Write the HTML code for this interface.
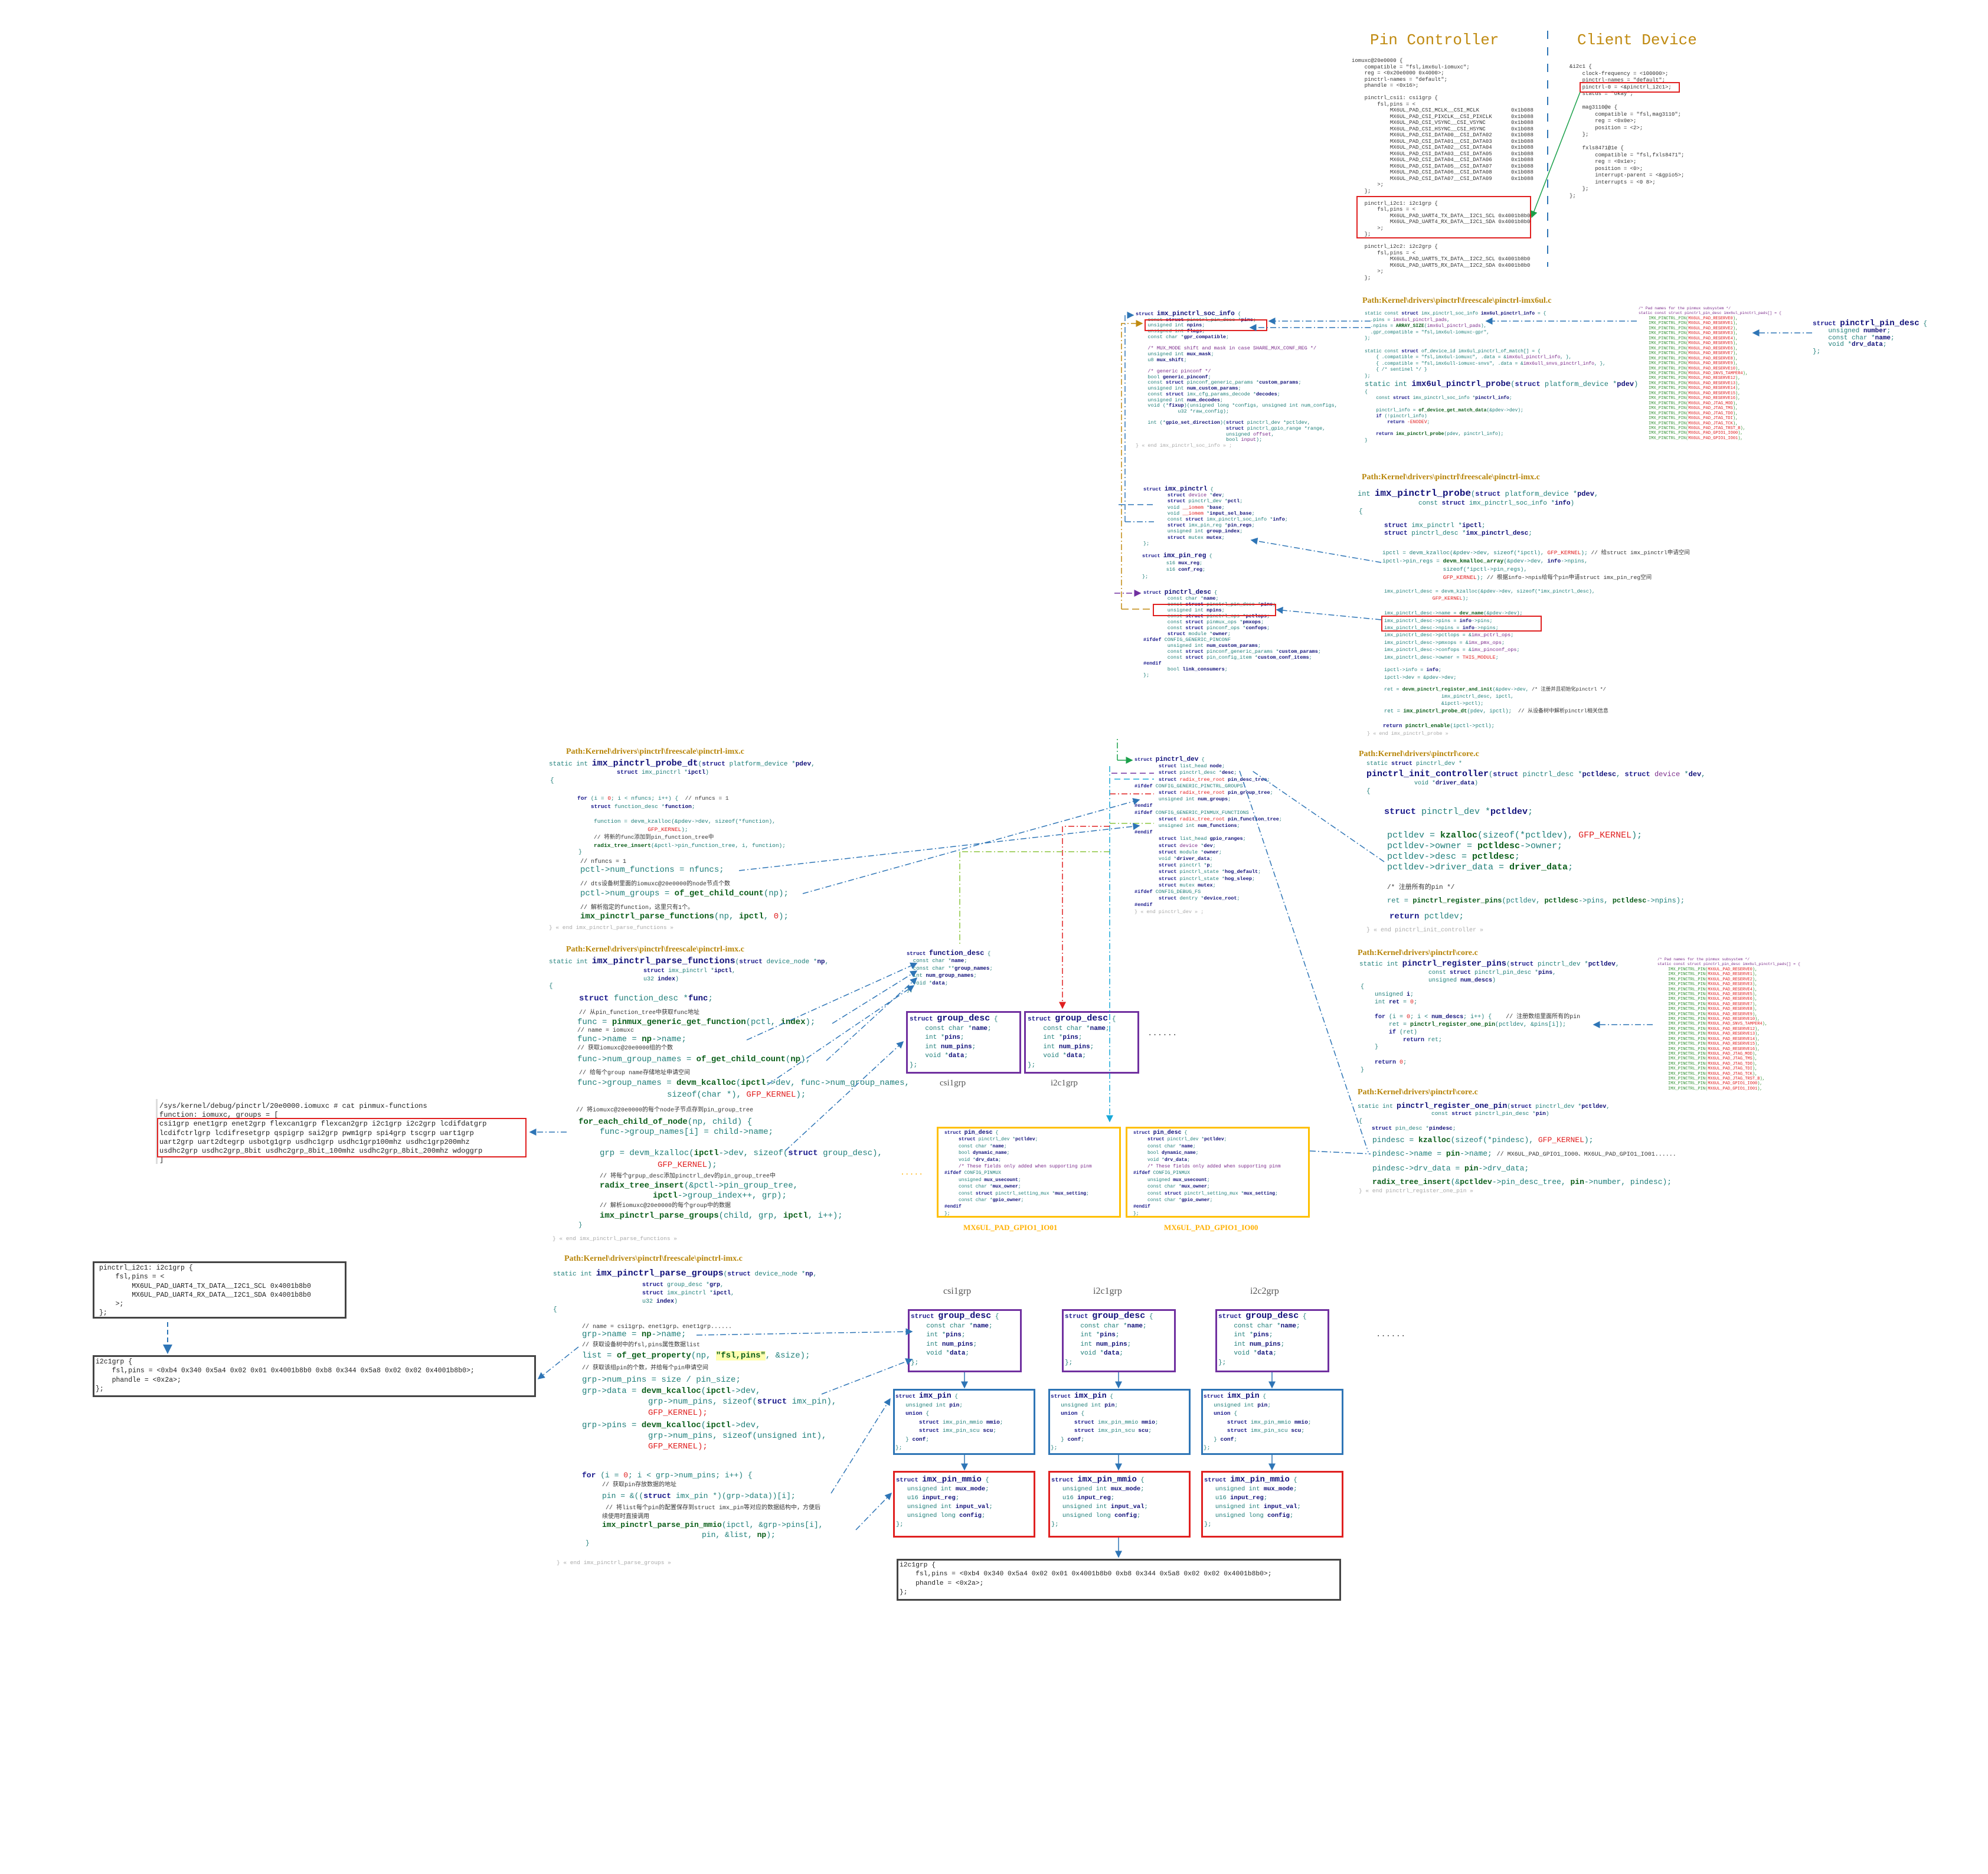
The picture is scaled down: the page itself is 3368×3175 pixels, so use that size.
<!DOCTYPE html>
<html><head><meta charset="utf-8">
<style>
html,body{margin:0;padding:0;background:#fff;}
body{width:3368px;height:3175px;position:relative;overflow:hidden;}
.t{position:absolute;white-space:pre;font-family:"Liberation Mono","Noto Sans CJK SC",monospace;color:#1f7f7a;line-height:1;}
.b{position:absolute;white-space:pre;font-family:"Liberation Mono","Noto Sans CJK SC",monospace;color:#1f7f7a;}
.path{position:absolute;white-space:pre;font-family:"Liberation Serif","Noto Serif CJK SC",serif;font-weight:bold;color:#b8860b;font-size:14px;}
.k{color:#1a1a8c;font-weight:bold}
.f{color:#0b5e1a;font-weight:bold}
.n{color:#10107a;font-weight:bold}
.r{color:#e02020}
.g{color:#2f8f2f}
.c{color:#333}
.p{color:#7a2a8a}
.gr{color:#aaa}
.box{position:absolute;box-sizing:border-box;}
.dts{color:#333;font-size:9px;line-height:10.5px;}
</style></head><body>

<!-- Titles -->
<div class="t" style="left:2321px;top:55px;font-size:26px;color:#c08a10;font-family:'Liberation Mono',monospace;">Pin Controller</div>
<div class="t" style="left:2672px;top:55px;font-size:26px;color:#c08a10;font-family:'Liberation Mono',monospace;">Client Device</div>

<!-- Pin controller DTS -->
<div class="b dts" style="left:2290px;top:98px;">iomuxc@20e0000 {
    compatible = "fsl,imx6ul-iomuxc";
    reg = &lt;0x20e0000 0x4000&gt;;
    pinctrl-names = "default";
    phandle = &lt;0x16&gt;;

    pinctrl_csi1: csi1grp {
        fsl,pins = &lt;
            MX6UL_PAD_CSI_MCLK__CSI_MCLK          0x1b088
            MX6UL_PAD_CSI_PIXCLK__CSI_PIXCLK      0x1b088
            MX6UL_PAD_CSI_VSYNC__CSI_VSYNC        0x1b088
            MX6UL_PAD_CSI_HSYNC__CSI_HSYNC        0x1b088
            MX6UL_PAD_CSI_DATA00__CSI_DATA02      0x1b088
            MX6UL_PAD_CSI_DATA01__CSI_DATA03      0x1b088
            MX6UL_PAD_CSI_DATA02__CSI_DATA04      0x1b088
            MX6UL_PAD_CSI_DATA03__CSI_DATA05      0x1b088
            MX6UL_PAD_CSI_DATA04__CSI_DATA06      0x1b088
            MX6UL_PAD_CSI_DATA05__CSI_DATA07      0x1b088
            MX6UL_PAD_CSI_DATA06__CSI_DATA08      0x1b088
            MX6UL_PAD_CSI_DATA07__CSI_DATA09      0x1b088
        &gt;;
    };

    pinctrl_i2c1: i2c1grp {
        fsl,pins = &lt;
            MX6UL_PAD_UART4_TX_DATA__I2C1_SCL 0x4001b8b0
            MX6UL_PAD_UART4_RX_DATA__I2C1_SDA 0x4001b8b0
        &gt;;
    };

    pinctrl_i2c2: i2c2grp {
        fsl,pins = &lt;
            MX6UL_PAD_UART5_TX_DATA__I2C2_SCL 0x4001b8b0
            MX6UL_PAD_UART5_RX_DATA__I2C2_SDA 0x4001b8b0
        &gt;;
    };</div>
<div class="box" style="left:2298px;top:332px;width:296px;height:72px;border:2px solid #e02020;"></div>

<!-- Client DTS -->
<div class="b dts" style="left:2659px;top:108px;line-height:11.5px;">&amp;i2c1 {
    clock-frequency = &lt;100000&gt;;
    pinctrl-names = "default";
    pinctrl-0 = &lt;&amp;pinctrl_i2c1&gt;;
    status = "okay";

    mag3110@e {
        compatible = "fsl,mag3110";
        reg = &lt;0x0e&gt;;
        position = &lt;2&gt;;
    };

    fxls8471@1e {
        compatible = "fsl,fxls8471";
        reg = &lt;0x1e&gt;;
        position = &lt;0&gt;;
        interrupt-parent = &lt;&amp;gpio5&gt;;
        interrupts = &lt;0 8&gt;;
    };
};</div>
<div class="box" style="left:2676px;top:139px;width:170px;height:18px;border:2px solid #e02020;"></div>

<!-- imx6ul.c -->
<div class="path" style="left:2308px;top:502px;">Path:Kernel\drivers\pinctrl\freescale\pinctrl-imx6ul.c</div>
<div class="b" style="left:2312px;top:527px;font-size:8px;line-height:10.6px;">static const <span class="k">struct</span> imx_pinctrl_soc_info <span class="n">imx6ul_pinctrl_info</span> = {
  .pins = <span class="p">imx6ul_pinctrl_pads</span>,
  .npins = <span class="f">ARRAY_SIZE</span>(<span class="p">imx6ul_pinctrl_pads</span>),
  .gpr_compatible = "fsl,imx6ul-iomuxc-gpr",
};

static const <span class="k">struct</span> of_device_id imx6ul_pinctrl_of_match[] = {
    { .compatible = "fsl,imx6ul-iomuxc", .data = &amp;<span class="p">imx6ul_pinctrl_info</span>, },
    { .compatible = "fsl,imx6ull-iomuxc-snvs", .data = &amp;<span class="p">imx6ull_snvs_pinctrl_info</span>, },
    { /* sentinel */ }
};</div>
<div class="t" style="left:2312px;top:644px;font-size:12px;">static int <span class="n" style="font-size:14px">imx6ul_pinctrl_probe</span>(<span class="k">struct</span> platform_device *<span class="n">pdev</span>)</div>
<div class="b" style="left:2312px;top:660px;font-size:8px;line-height:10.2px;">{
    const <span class="k">struct</span> imx_pinctrl_soc_info *<span class="n">pinctrl_info</span>;

    pinctrl_info = <span class="f">of_device_get_match_data</span>(&amp;pdev-&gt;dev);
    <span class="k">if</span> (!pinctrl_info)
        <span class="k">return</span> <span class="r">-ENODEV</span>;

    <span class="k">return</span> <span class="f">imx_pinctrl_probe</span>(pdev, pinctrl_info);
}</div>

<!-- pads list 1 -->
<div class="b" style="left:2776px;top:519px;font-size:6.5px;line-height:8.4px;color:#7a2a8a">/* Pad names for the pinmux subsystem */
static const struct pinctrl_pin_desc imx6ul_pinctrl_pads[] = {</div>
<div class="b g" style="left:2793px;top:536px;font-size:7px;line-height:8.45px;">IMX_PINCTRL_PIN(<span class="r">MX6UL_PAD_RESERVE0</span>),
IMX_PINCTRL_PIN(<span class="r">MX6UL_PAD_RESERVE1</span>),
IMX_PINCTRL_PIN(<span class="r">MX6UL_PAD_RESERVE2</span>),
IMX_PINCTRL_PIN(<span class="r">MX6UL_PAD_RESERVE3</span>),
IMX_PINCTRL_PIN(<span class="r">MX6UL_PAD_RESERVE4</span>),
IMX_PINCTRL_PIN(<span class="r">MX6UL_PAD_RESERVE5</span>),
IMX_PINCTRL_PIN(<span class="r">MX6UL_PAD_RESERVE6</span>),
IMX_PINCTRL_PIN(<span class="r">MX6UL_PAD_RESERVE7</span>),
IMX_PINCTRL_PIN(<span class="r">MX6UL_PAD_RESERVE8</span>),
IMX_PINCTRL_PIN(<span class="r">MX6UL_PAD_RESERVE9</span>),
IMX_PINCTRL_PIN(<span class="r">MX6UL_PAD_RESERVE10</span>),
IMX_PINCTRL_PIN(<span class="r">MX6UL_PAD_SNVS_TAMPER4</span>),
IMX_PINCTRL_PIN(<span class="r">MX6UL_PAD_RESERVE12</span>),
IMX_PINCTRL_PIN(<span class="r">MX6UL_PAD_RESERVE13</span>),
IMX_PINCTRL_PIN(<span class="r">MX6UL_PAD_RESERVE14</span>),
IMX_PINCTRL_PIN(<span class="r">MX6UL_PAD_RESERVE15</span>),
IMX_PINCTRL_PIN(<span class="r">MX6UL_PAD_RESERVE16</span>),
IMX_PINCTRL_PIN(<span class="r">MX6UL_PAD_JTAG_MOD</span>),
IMX_PINCTRL_PIN(<span class="r">MX6UL_PAD_JTAG_TMS</span>),
IMX_PINCTRL_PIN(<span class="r">MX6UL_PAD_JTAG_TDO</span>),
IMX_PINCTRL_PIN(<span class="r">MX6UL_PAD_JTAG_TDI</span>),
IMX_PINCTRL_PIN(<span class="r">MX6UL_PAD_JTAG_TCK</span>),
IMX_PINCTRL_PIN(<span class="r">MX6UL_PAD_JTAG_TRST_B</span>),
IMX_PINCTRL_PIN(<span class="r">MX6UL_PAD_GPIO1_IO00</span>),
IMX_PINCTRL_PIN(<span class="r">MX6UL_PAD_GPIO1_IO01</span>),</div>

<div class="b" style="left:3071px;top:543px;font-size:11px;line-height:11.8px;"><span class="k">struct</span> <span class="n" style="font-size:14px">pinctrl_pin_desc</span> {
    unsigned <span class="n">number</span>;
    const char *<span class="n">name</span>;
    void *<span class="n">drv_data</span>;
};</div>

<!-- middle structs -->
<div class="b" style="left:1924px;top:528px;font-size:8.5px;line-height:9.7px;"><span class="k">struct</span> <span class="n" style="font-size:11px">imx_pinctrl_soc_info</span> {
    const <span class="k">struct</span> pinctrl_pin_desc *<span class="n">pins</span>;
    unsigned int <span class="n">npins</span>;
    unsigned int <span class="n">flags</span>;
    const char *<span class="n">gpr_compatible</span>;

    <span class="p">/* MUX_MODE shift and mask in case SHARE_MUX_CONF_REG */</span>
    unsigned int <span class="n">mux_mask</span>;
    u8 <span class="n">mux_shift</span>;

    <span class="p">/* generic pinconf */</span>
    bool <span class="n">generic_pinconf</span>;
    const <span class="k">struct</span> pinconf_generic_params *<span class="n">custom_params</span>;
    unsigned int <span class="n">num_custom_params</span>;
    const <span class="k">struct</span> imx_cfg_params_decode *<span class="n">decodes</span>;
    unsigned int <span class="n">num_decodes</span>;
    void (*<span class="n">fixup</span>)(unsigned long *configs, unsigned int num_configs,
              u32 *raw_config);

    int (*<span class="n">gpio_set_direction</span>)(<span class="k">struct</span> pinctrl_dev *pctldev,
                              <span class="k">struct</span> pinctrl_gpio_range *range,
                              unsigned <span class="p">offset</span>,
                              bool <span class="p">input</span>);
<span class="gr">} « end imx_pinctrl_soc_info » ;</span></div>
<div class="box" style="left:1939px;top:541px;width:208px;height:20px;border:2px solid #e02020;"></div>

<div class="b" style="left:1937px;top:824px;font-size:8.5px;line-height:10.2px;"><span class="k">struct</span> <span class="n" style="font-size:11px">imx_pinctrl</span> {
        <span class="k">struct</span> <span class="p">device</span> *<span class="n">dev</span>;
        <span class="k">struct</span> pinctrl_dev *<span class="n">pctl</span>;
        void <span class="r">__iomem</span> *<span class="n">base</span>;
        void <span class="r">__iomem</span> *<span class="n">input_sel_base</span>;
        const <span class="k">struct</span> imx_pinctrl_soc_info *<span class="n">info</span>;
        <span class="k">struct</span> imx_pin_reg *<span class="n">pin_regs</span>;
        unsigned int <span class="n">group_index</span>;
        <span class="k">struct</span> mutex <span class="n">mutex</span>;
};</div>
<div class="b" style="left:1935px;top:937px;font-size:8.5px;line-height:11.5px;"><span class="k">struct</span> <span class="n" style="font-size:11px">imx_pin_reg</span> {
        s16 <span class="n">mux_reg</span>;
        s16 <span class="n">conf_reg</span>;
};</div>
<div class="b" style="left:1937px;top:999px;font-size:8.5px;line-height:10px;"><span class="k">struct</span> <span class="n" style="font-size:11px">pinctrl_desc</span> {
        const char *<span class="n">name</span>;
        const <span class="k">struct</span> pinctrl_pin_desc *<span class="n">pins</span>;
        unsigned int <span class="n">npins</span>;
        const <span class="k">struct</span> pinctrl_ops *<span class="n">pctlops</span>;
        const <span class="k">struct</span> pinmux_ops *<span class="n">pmxops</span>;
        const <span class="k">struct</span> pinconf_ops *<span class="n">confops</span>;
        <span class="k">struct</span> module *<span class="n">owner</span>;
<span class="k">#ifdef</span> CONFIG_GENERIC_PINCONF
        unsigned int <span class="n">num_custom_params</span>;
        const <span class="k">struct</span> pinconf_generic_params *<span class="n">custom_params</span>;
        const <span class="k">struct</span> pin_config_item *<span class="n">custom_conf_items</span>;
<span class="k">#endif</span>
        bool <span class="n">link_consumers</span>;
};</div>
<div class="box" style="left:1953px;top:1023px;width:209px;height:21px;border:2px solid #e02020;"></div>

<div class="b" style="left:1922px;top:1282px;font-size:8.5px;line-height:11.2px;"><span class="k">struct</span> <span class="n" style="font-size:11px">pinctrl_dev</span> {
        <span class="k">struct</span> list_head <span class="n">node</span>;
        <span class="k">struct</span> pinctrl_desc *<span class="n">desc</span>;
        <span class="k">struct</span> <span class="r">radix_tree_root</span> <span class="n">pin_desc_tree</span>;
<span class="k">#ifdef</span> CONFIG_GENERIC_PINCTRL_GROUPS
        <span class="k">struct</span> <span class="r">radix_tree_root</span> <span class="n">pin_group_tree</span>;
        unsigned int <span class="n">num_groups</span>;
<span class="k">#endif</span>
<span class="k">#ifdef</span> CONFIG_GENERIC_PINMUX_FUNCTIONS
        <span class="k">struct</span> <span class="r">radix_tree_root</span> <span class="n">pin_function_tree</span>;
        unsigned int <span class="n">num_functions</span>;
<span class="k">#endif</span>
        <span class="k">struct</span> list_head <span class="n">gpio_ranges</span>;
        <span class="k">struct</span> <span class="p">device</span> *<span class="n">dev</span>;
        <span class="k">struct</span> module *<span class="n">owner</span>;
        void *<span class="n">driver_data</span>;
        <span class="k">struct</span> pinctrl *<span class="n">p</span>;
        <span class="k">struct</span> pinctrl_state *<span class="n">hog_default</span>;
        <span class="k">struct</span> pinctrl_state *<span class="n">hog_sleep</span>;
        <span class="k">struct</span> mutex <span class="n">mutex</span>;
<span class="k">#ifdef</span> CONFIG_DEBUG_FS
        <span class="k">struct</span> dentry *<span class="n">device_root</span>;
<span class="k">#endif</span>
<span class="gr">} « end pinctrl_dev » ;</span></div>

<!-- imx_pinctrl_probe (right) -->
<div class="path" style="left:2307px;top:801px;">Path:Kernel\drivers\pinctrl\freescale\pinctrl-imx.c</div>
<div class="t" style="left:2300px;top:828px;font-size:12px;">int <span class="n" style="font-size:16px">imx_pinctrl_probe</span>(<span class="k">struct</span> platform_device *<span class="n">pdev</span>,</div>
<div class="t" style="left:2403px;top:848px;font-size:11px;">const <span class="k">struct</span> imx_pinctrl_soc_info *<span class="n">info</span>)</div>
<div class="t" style="left:2302px;top:862px;font-size:11px;">{</div>
<div class="b" style="left:2345px;top:885px;font-size:11px;line-height:13px;"><span class="k">struct</span> imx_pinctrl *<span class="n">ipctl</span>;
<span class="k">struct</span> pinctrl_desc *<span class="n">imx_pinctrl_desc</span>;</div>
<div class="b" style="left:2342px;top:930px;font-size:9.5px;line-height:14px;">ipctl = devm_kzalloc(&amp;pdev-&gt;dev, sizeof(*ipctl), <span class="r">GFP_KERNEL</span>); <span class="c">// 给struct imx_pinctrl申请空间</span>
ipctl-&gt;pin_regs = <span class="f">devm_kmalloc_array</span>(&amp;pdev-&gt;dev, <span class="n">info</span>-&gt;npins,
                  sizeof(*ipctl-&gt;pin_regs),
                  <span class="r">GFP_KERNEL</span>); <span class="c">// 根据info-&gt;npis给每个pin申请struct imx_pin_reg空间</span></div>
<div class="b" style="left:2345px;top:996px;font-size:8.5px;line-height:12.4px;">imx_pinctrl_desc = devm_kzalloc(&amp;pdev-&gt;dev, sizeof(*imx_pinctrl_desc),
                <span class="r">GFP_KERNEL</span>);

imx_pinctrl_desc-&gt;name = <span class="f">dev_name</span>(&amp;pdev-&gt;dev);
imx_pinctrl_desc-&gt;pins = <span class="n">info</span>-&gt;pins;
imx_pinctrl_desc-&gt;npins = <span class="n">info</span>-&gt;npins;
imx_pinctrl_desc-&gt;pctlops = &amp;<span class="p">imx_pctrl_ops</span>;
imx_pinctrl_desc-&gt;pmxops = &amp;<span class="p">imx_pmx_ops</span>;
imx_pinctrl_desc-&gt;confops = &amp;<span class="p">imx_pinconf_ops</span>;
imx_pinctrl_desc-&gt;owner = <span class="r">THIS_MODULE</span>;</div>
<div class="box" style="left:2340px;top:1043px;width:272px;height:27px;border:2px solid #e02020;"></div>
<div class="b" style="left:2345px;top:1129px;font-size:8.5px;line-height:13px;">ipctl-&gt;info = <span class="n">info</span>;
ipctl-&gt;dev = &amp;pdev-&gt;dev;</div>
<div class="b" style="left:2345px;top:1162px;font-size:8.5px;line-height:12px;">ret = <span class="f">devm_pinctrl_register_and_init</span>(&amp;pdev-&gt;dev, <span class="c">/* 注册并且初始化pinctrl */</span>
                   imx_pinctrl_desc, ipctl,
                   &amp;ipctl-&gt;pctl);</div>
<div class="t" style="left:2345px;top:1201px;font-size:9px;">ret = <span class="f">imx_pinctrl_probe_dt</span>(pdev, ipctl);  <span class="c">// 从设备树中解析pinctrl相关信息</span></div>
<div class="t" style="left:2343px;top:1226px;font-size:9px;"><span class="k">return</span> <span class="f">pinctrl_enable</span>(ipctl-&gt;pctl);</div>
<div class="t gr" style="left:2316px;top:1239px;font-size:8.5px;">} « end imx_pinctrl_probe »</div>

<!-- pinctrl_init_controller -->
<div class="path" style="left:2302px;top:1270px;">Path:Kernel\drivers\pinctrl\core.c</div>
<div class="t" style="left:2315px;top:1290px;font-size:10px;">static <span class="k">struct</span> pinctrl_dev *</div>
<div class="t" style="left:2315px;top:1304px;font-size:12px;"><span class="n" style="font-size:15px">pinctrl_init_controller</span>(<span class="k">struct</span> pinctrl_desc *<span class="n">pctldesc</span>, <span class="k">struct</span> <span class="p">device</span> *<span class="n">dev</span>,</div>
<div class="t" style="left:2396px;top:1323px;font-size:10px;">void *<span class="n">driver_data</span>)</div>
<div class="t" style="left:2315px;top:1336px;font-size:11px;">{</div>
<div class="t" style="left:2345px;top:1368px;font-size:15px;"><span class="k">struct</span> pinctrl_dev *<span class="n">pctldev</span>;</div>
<div class="b" style="left:2350px;top:1407px;font-size:15px;line-height:18px;">pctldev = <span class="f">kzalloc</span>(sizeof(*pctldev), <span class="r">GFP_KERNEL</span>);
pctldev-&gt;owner = <span class="f">pctldesc</span>-&gt;owner;
pctldev-&gt;desc = <span class="f">pctldesc</span>;
pctldev-&gt;driver_data = <span class="f">driver_data</span>;</div>
<div class="t c" style="left:2350px;top:1499px;font-size:11px;">/* 注册所有的pin */</div>
<div class="t" style="left:2350px;top:1520px;font-size:12px;">ret = <span class="f">pinctrl_register_pins</span>(pctldev, <span class="f">pctldesc</span>-&gt;pins, <span class="f">pctldesc</span>-&gt;npins);</div>
<div class="t" style="left:2354px;top:1546px;font-size:14px;"><span class="k">return</span> pctldev;</div>
<div class="t gr" style="left:2315px;top:1572px;font-size:10px;">} « end pinctrl_init_controller »</div>

<!-- pinctrl_register_pins -->
<div class="path" style="left:2300px;top:1607px;">Path:Kernel\drivers\pinctrl\core.c</div>
<div class="t" style="left:2303px;top:1626px;font-size:11px;">static int <span class="n" style="font-size:14px">pinctrl_register_pins</span>(<span class="k">struct</span> pinctrl_dev *<span class="n">pctldev</span>,</div>
<div class="b" style="left:2420px;top:1642px;font-size:10px;line-height:13px;">const <span class="k">struct</span> pinctrl_pin_desc *<span class="n">pins</span>,
unsigned <span class="n">num_descs</span>)</div>
<div class="b" style="left:2305px;top:1667px;font-size:10px;line-height:12.8px;">{
    unsigned <span class="n">i</span>;
    int <span class="n">ret</span> = <span class="r">0</span>;

    <span class="k">for</span> (i = <span class="r">0</span>; i &lt; <span class="n">num_descs</span>; i++) {    <span class="c">// 注册数组里面所有的pin</span>
        ret = <span class="f">pinctrl_register_one_pin</span>(pctldev, &amp;pins[i]);
        <span class="k">if</span> (ret)
            <span class="k">return</span> ret;
    }

    <span class="k">return</span> <span class="r">0</span>;
}</div>
<div class="b" style="left:2808px;top:1622px;font-size:6.5px;line-height:8.4px;color:#7a2a8a">/* Pad names for the pinmux subsystem */
static const struct pinctrl_pin_desc imx6ul_pinctrl_pads[] = {</div>
<div class="b g" style="left:2826px;top:1639px;font-size:7px;line-height:8.4px;">IMX_PINCTRL_PIN(<span class="r">MX6UL_PAD_RESERVE0</span>),
IMX_PINCTRL_PIN(<span class="r">MX6UL_PAD_RESERVE1</span>),
IMX_PINCTRL_PIN(<span class="r">MX6UL_PAD_RESERVE2</span>),
IMX_PINCTRL_PIN(<span class="r">MX6UL_PAD_RESERVE3</span>),
IMX_PINCTRL_PIN(<span class="r">MX6UL_PAD_RESERVE4</span>),
IMX_PINCTRL_PIN(<span class="r">MX6UL_PAD_RESERVE5</span>),
IMX_PINCTRL_PIN(<span class="r">MX6UL_PAD_RESERVE6</span>),
IMX_PINCTRL_PIN(<span class="r">MX6UL_PAD_RESERVE7</span>),
IMX_PINCTRL_PIN(<span class="r">MX6UL_PAD_RESERVE8</span>),
IMX_PINCTRL_PIN(<span class="r">MX6UL_PAD_RESERVE9</span>),
IMX_PINCTRL_PIN(<span class="r">MX6UL_PAD_RESERVE10</span>),
IMX_PINCTRL_PIN(<span class="r">MX6UL_PAD_SNVS_TAMPER4</span>),
IMX_PINCTRL_PIN(<span class="r">MX6UL_PAD_RESERVE12</span>),
IMX_PINCTRL_PIN(<span class="r">MX6UL_PAD_RESERVE13</span>),
IMX_PINCTRL_PIN(<span class="r">MX6UL_PAD_RESERVE14</span>),
IMX_PINCTRL_PIN(<span class="r">MX6UL_PAD_RESERVE15</span>),
IMX_PINCTRL_PIN(<span class="r">MX6UL_PAD_RESERVE16</span>),
IMX_PINCTRL_PIN(<span class="r">MX6UL_PAD_JTAG_MOD</span>),
IMX_PINCTRL_PIN(<span class="r">MX6UL_PAD_JTAG_TMS</span>),
IMX_PINCTRL_PIN(<span class="r">MX6UL_PAD_JTAG_TDO</span>),
IMX_PINCTRL_PIN(<span class="r">MX6UL_PAD_JTAG_TDI</span>),
IMX_PINCTRL_PIN(<span class="r">MX6UL_PAD_JTAG_TCK</span>),
IMX_PINCTRL_PIN(<span class="r">MX6UL_PAD_JTAG_TRST_B</span>),
IMX_PINCTRL_PIN(<span class="r">MX6UL_PAD_GPIO1_IO00</span>),
IMX_PINCTRL_PIN(<span class="r">MX6UL_PAD_GPIO1_IO01</span>),</div>

<!-- register_one_pin -->
<div class="path" style="left:2300px;top:1843px;">Path:Kernel\drivers\pinctrl\core.c</div>
<div class="t" style="left:2300px;top:1867px;font-size:10px;">static int <span class="n" style="font-size:13px">pinctrl_register_one_pin</span>(<span class="k">struct</span> pinctrl_dev *<span class="n">pctldev</span>,</div>
<div class="t" style="left:2425px;top:1882px;font-size:9.5px;">const <span class="k">struct</span> pinctrl_pin_desc *<span class="n">pin</span>)</div>
<div class="t" style="left:2302px;top:1896px;font-size:10px;">{</div>
<div class="t" style="left:2324px;top:1907px;font-size:9.5px;"><span class="k">struct</span> pin_desc *<span class="n">pindesc</span>;</div>
<div class="t" style="left:2325px;top:1925px;font-size:13px;">pindesc = <span class="f">kzalloc</span>(sizeof(*pindesc), <span class="r">GFP_KERNEL</span>);</div>
<div class="t" style="left:2325px;top:1948px;font-size:13px;">pindesc-&gt;name = <span class="f">pin</span>-&gt;name; <span class="c" style="font-size:10px">// MX6UL_PAD_GPIO1_IO00、MX6UL_PAD_GPIO1_IO01......</span></div>
<div class="t" style="left:2325px;top:1973px;font-size:13px;">pindesc-&gt;drv_data = <span class="f">pin</span>-&gt;drv_data;</div>
<div class="t" style="left:2325px;top:1996px;font-size:13px;"><span class="f">radix_tree_insert</span>(&amp;<span class="f">pctldev</span>-&gt;pin_desc_tree, <span class="f">pin</span>-&gt;number, pindesc);</div>
<div class="t gr" style="left:2302px;top:2013px;font-size:9.5px;">} « end pinctrl_register_one_pin »</div>

<!-- imx_pinctrl_probe_dt -->
<div class="path" style="left:959px;top:1266px;">Path:Kernel\drivers\pinctrl\freescale\pinctrl-imx.c</div>
<div class="t" style="left:930px;top:1286px;font-size:11px;">static int <span class="n" style="font-size:15px">imx_pinctrl_probe_dt</span>(<span class="k">struct</span> platform_device *<span class="n">pdev</span>,</div>
<div class="t" style="left:1045px;top:1305px;font-size:10px;"><span class="k">struct</span> imx_pinctrl *<span class="n">ipctl</span>)</div>
<div class="t" style="left:932px;top:1318px;font-size:11px;">{</div>
<div class="b" style="left:978px;top:1346px;font-size:9.5px;line-height:13.5px;"><span class="k">for</span> (i = <span class="r">0</span>; i &lt; nfuncs; i++) {  <span class="c">// nfuncs = 1</span>
    <span class="k">struct</span> function_desc *<span class="n">function</span>;</div>
<div class="b" style="left:1006px;top:1385px;font-size:9.5px;line-height:13.5px;">function = devm_kzalloc(&amp;pdev-&gt;dev, sizeof(*function),
                <span class="r">GFP_KERNEL</span>);
<span class="c">// 将新的func添加到pin_function_tree中</span>
<span class="f">radix_tree_insert</span>(&amp;pctl-&gt;pin_function_tree, i, function);</div>
<div class="t" style="left:980px;top:1440px;font-size:10px;">}</div>
<div class="t c" style="left:983px;top:1456px;font-size:10px;">// nfuncs = 1</div>
<div class="t" style="left:983px;top:1467px;font-size:14px;">pctl-&gt;num_functions = nfuncs;</div>
<div class="t c" style="left:983px;top:1494px;font-size:10px;">// dts设备树里面的iomuxc@20e0000的node节点个数</div>
<div class="t" style="left:983px;top:1507px;font-size:14px;">pctl-&gt;num_groups = <span class="f">of_get_child_count</span>(np);</div>
<div class="t c" style="left:983px;top:1534px;font-size:10px;">// 解析指定的function，这里只有1个。</div>
<div class="t" style="left:983px;top:1546px;font-size:14px;"><span class="f">imx_pinctrl_parse_functions</span>(np, <span class="f">ipctl</span>, <span class="r">0</span>);</div>
<div class="t gr" style="left:930px;top:1567px;font-size:9.5px;">} « end imx_pinctrl_parse_functions »</div>

<!-- imx_pinctrl_parse_functions -->
<div class="path" style="left:959px;top:1601px;">Path:Kernel\drivers\pinctrl\freescale\pinctrl-imx.c</div>
<div class="t" style="left:930px;top:1621px;font-size:11px;">static int <span class="n" style="font-size:15px">imx_pinctrl_parse_functions</span>(<span class="k">struct</span> device_node *<span class="n">np</span>,</div>
<div class="b" style="left:1090px;top:1639px;font-size:10px;line-height:13.5px;"><span class="k">struct</span> imx_pinctrl *<span class="n">ipctl</span>,
u32 <span class="n">index</span>)</div>
<div class="t" style="left:930px;top:1666px;font-size:11px;">{</div>
<div class="t" style="left:981px;top:1685px;font-size:14px;"><span class="k">struct</span> function_desc *<span class="n">func</span>;</div>
<div class="t c" style="left:981px;top:1712px;font-size:10px;">// 从pin_function_tree中获取func地址</div>
<div class="t" style="left:978px;top:1725px;font-size:14px;">func = <span class="f">pinmux_generic_get_function</span>(pctl, <span class="f">index</span>);</div>
<div class="t c" style="left:978px;top:1742px;font-size:10px;">// name = iomuxc</div>
<div class="t" style="left:978px;top:1754px;font-size:14px;">func-&gt;name = <span class="f">np</span>-&gt;name;</div>
<div class="t c" style="left:978px;top:1772px;font-size:10px;">// 获取iomuxc@20e0000组的个数</div>
<div class="t" style="left:978px;top:1788px;font-size:14px;">func-&gt;num_group_names = <span class="f">of_get_child_count</span>(<span class="f">np</span>);</div>
<div class="t c" style="left:981px;top:1814px;font-size:10px;">// 给每个group name存储地址申请空间</div>
<div class="t" style="left:978px;top:1828px;font-size:14px;">func-&gt;group_names = <span class="f">devm_kcalloc</span>(<span class="f">ipctl</span>-&gt;dev, func-&gt;num_group_names,</div>
<div class="t" style="left:1130px;top:1848px;font-size:14px;">sizeof(char *), <span class="r">GFP_KERNEL</span>);</div>
<div class="t c" style="left:976px;top:1877px;font-size:10px;">// 将iomuxc@20e0000的每个node子节点存到pin_group_tree</div>
<div class="t" style="left:980px;top:1894px;font-size:14px;"><span class="f">for_each_child_of_node</span>(np, child) {</div>
<div class="t" style="left:1016px;top:1911px;font-size:14px;">func-&gt;group_names[i] = child-&gt;name;</div>
<div class="t" style="left:1016px;top:1947px;font-size:14px;">grp = devm_kzalloc(<span class="f">ipctl</span>-&gt;dev, sizeof(<span class="k">struct</span> group_desc),</div>
<div class="t" style="left:1114px;top:1967px;font-size:14px;"><span class="r">GFP_KERNEL</span>);</div>
<div class="t c" style="left:1016px;top:1989px;font-size:10px;">// 将每个grpup_desc添加pinctrl_dev的pin_group_tree中</div>
<div class="t" style="left:1016px;top:2002px;font-size:14px;"><span class="f">radix_tree_insert</span>(&amp;pctl-&gt;pin_group_tree,</div>
<div class="t" style="left:1106px;top:2019px;font-size:14px;"><span class="f">ipctl</span>-&gt;group_index++, grp);</div>
<div class="t c" style="left:1016px;top:2039px;font-size:10px;">// 解析iomuxc@20e0000的每个group中的数据</div>
<div class="t" style="left:1016px;top:2053px;font-size:14px;"><span class="f">imx_pinctrl_parse_groups</span>(child, grp, <span class="f">ipctl</span>, i++);</div>
<div class="t" style="left:980px;top:2071px;font-size:11px;">}</div>
<div class="t gr" style="left:936px;top:2094px;font-size:9.5px;">} « end imx_pinctrl_parse_functions »</div>

<!-- function_desc -->
<div class="b" style="left:1536px;top:1609px;font-size:9px;line-height:12.4px;"><span class="k">struct</span> <span class="n" style="font-size:12px">function_desc</span> {
  const char *<span class="n">name</span>;
  const char **<span class="n">group_names</span>;
  int <span class="n">num_group_names</span>;
  void *<span class="n">data</span>;
};</div>

<!-- group_desc boxes (mid) -->
<div class="box" style="left:1535px;top:1713px;width:195px;height:106px;border:3px solid #7030a0;"></div>
<div class="b" style="left:1541px;top:1718px;font-size:11px;line-height:15.5px;"><span class="k">struct</span> <span class="n" style="font-size:15px">group_desc</span> {
    const char *<span class="n">name</span>;
    int *<span class="n">pins</span>;
    int <span class="n">num_pins</span>;
    void *<span class="n">data</span>;
};</div>
<div class="box" style="left:1735px;top:1713px;width:195px;height:106px;border:3px solid #7030a0;"></div>
<div class="b" style="left:1741px;top:1718px;font-size:11px;line-height:15.5px;"><span class="k">struct</span> <span class="n" style="font-size:15px">group_desc</span> {
    const char *<span class="n">name</span>;
    int *<span class="n">pins</span>;
    int <span class="n">num_pins</span>;
    void *<span class="n">data</span>;
};</div>
<div class="t" style="left:1592px;top:1828px;font-size:15px;color:#555;font-family:'Liberation Serif',serif;">csi1grp</div>
<div class="t" style="left:1780px;top:1828px;font-size:15px;color:#555;font-family:'Liberation Serif',serif;">i2c1grp</div>
<div class="t" style="left:1944px;top:1744px;font-size:14px;color:#555;">......</div>

<!-- pin_desc boxes -->
<div class="box" style="left:1587px;top:1909px;width:312px;height:154px;border:3px solid #ffc000;"></div>
<div class="b" style="left:1600px;top:1914px;font-size:8px;line-height:11.4px;"><span class="k">struct</span> <span class="n" style="font-size:10px">pin_desc</span> {
     <span class="k">struct</span> pinctrl_dev *<span class="n">pctldev</span>;
     const char *<span class="n">name</span>;
     bool <span class="n">dynamic_name</span>;
     void *<span class="n">drv_data</span>;
     <span class="p">/* These fields only added when supporting pinm</span>
<span class="k">#ifdef</span> CONFIG_PINMUX
     unsigned <span class="n">mux_usecount</span>;
     const char *<span class="n">mux_owner</span>;
     const <span class="k">struct</span> pinctrl_setting_mux *<span class="n">mux_setting</span>;
     const char *<span class="n">gpio_owner</span>;
<span class="k">#endif</span>
};</div>
<div class="box" style="left:1907px;top:1909px;width:312px;height:154px;border:3px solid #ffc000;"></div>
<div class="b" style="left:1920px;top:1914px;font-size:8px;line-height:11.4px;"><span class="k">struct</span> <span class="n" style="font-size:10px">pin_desc</span> {
     <span class="k">struct</span> pinctrl_dev *<span class="n">pctldev</span>;
     const char *<span class="n">name</span>;
     bool <span class="n">dynamic_name</span>;
     void *<span class="n">drv_data</span>;
     <span class="p">/* These fields only added when supporting pinm</span>
<span class="k">#ifdef</span> CONFIG_PINMUX
     unsigned <span class="n">mux_usecount</span>;
     const char *<span class="n">mux_owner</span>;
     const <span class="k">struct</span> pinctrl_setting_mux *<span class="n">mux_setting</span>;
     const char *<span class="n">gpio_owner</span>;
<span class="k">#endif</span>
};</div>
<div class="t" style="left:1632px;top:2073px;font-size:13px;color:#ffb000;font-family:'Liberation Serif',serif;font-weight:bold;">MX6UL_PAD_GPIO1_IO01</div>
<div class="t" style="left:1972px;top:2073px;font-size:13px;color:#ffb000;font-family:'Liberation Serif',serif;font-weight:bold;">MX6UL_PAD_GPIO1_IO00</div>
<div class="t" style="left:1525px;top:1980px;font-size:13px;color:#ffb000;">.....</div>

<!-- sys/kernel debug block -->
<div class="box" style="left:264px;top:1862px;width:3px;height:110px;background:#ddd;"></div>
<div class="b" style="left:270px;top:1867px;font-size:12px;line-height:15.2px;color:#222;">/sys/kernel/debug/pinctrl/20e0000.iomuxc # cat pinmux-functions
function: iomuxc, groups = [
csi1grp enet1grp enet2grp flexcan1grp flexcan2grp i2c1grp i2c2grp lcdifdatgrp
lcdifctrlgrp lcdifresetgrp qspigrp sai2grp pwm1grp spi4grp tscgrp uart1grp
uart2grp uart2dtegrp usbotg1grp usdhc1grp usdhc1grp100mhz usdhc1grp200mhz
usdhc2grp usdhc2grp_8bit usdhc2grp_8bit_100mhz usdhc2grp_8bit_200mhz wdoggrp
]</div>
<div class="box" style="left:266px;top:1894px;width:626px;height:67px;border:2px solid #e02020;"></div>

<!-- left DTS boxes -->
<div class="box" style="left:157px;top:2137px;width:430px;height:97px;border:3px solid #444;"></div>
<div class="b" style="left:168px;top:2141px;font-size:11.5px;line-height:15.3px;color:#222;">pinctrl_i2c1: i2c1grp {
    fsl,pins = &lt;
        MX6UL_PAD_UART4_TX_DATA__I2C1_SCL 0x4001b8b0
        MX6UL_PAD_UART4_RX_DATA__I2C1_SDA 0x4001b8b0
    &gt;;
};</div>
<div class="box" style="left:157px;top:2296px;width:751px;height:71px;border:3px solid #444;"></div>
<div class="b" style="left:162px;top:2300px;font-size:11.5px;line-height:15.3px;color:#222;">i2c1grp {
    fsl,pins = &lt;0xb4 0x340 0x5a4 0x02 0x01 0x4001b8b0 0xb8 0x344 0x5a8 0x02 0x02 0x4001b8b0&gt;;
    phandle = &lt;0x2a&gt;;
};</div>

<!-- parse_groups -->
<div class="path" style="left:956px;top:2125px;">Path:Kernel\drivers\pinctrl\freescale\pinctrl-imx.c</div>
<div class="t" style="left:937px;top:2150px;font-size:11px;">static int <span class="n" style="font-size:15px">imx_pinctrl_parse_groups</span>(<span class="k">struct</span> device_node *<span class="n">np</span>,</div>
<div class="b" style="left:1088px;top:2171px;font-size:10px;line-height:14px;"><span class="k">struct</span> group_desc *<span class="n">grp</span>,
<span class="k">struct</span> imx_pinctrl *<span class="n">ipctl</span>,
u32 <span class="n">index</span>)</div>
<div class="t" style="left:937px;top:2214px;font-size:11px;">{</div>
<div class="t c" style="left:986px;top:2244px;font-size:10px;">// name = csi1grp、enet1grp、enet1grp......</div>
<div class="t" style="left:986px;top:2254px;font-size:14px;">grp-&gt;name = <span class="f">np</span>-&gt;name;</div>
<div class="t c" style="left:986px;top:2275px;font-size:10px;">// 获取设备树中的fsl,pins属性数据list</div>
<div class="t" style="left:986px;top:2290px;font-size:14px;">list = <span class="f">of_get_property</span>(np, <span style="background:#ffffb0" class="f">"fsl,pins"</span>, &amp;size);</div>
<div class="t c" style="left:986px;top:2314px;font-size:10px;">// 获取该组pin的个数，并给每个pin申请空间</div>
<div class="t" style="left:986px;top:2331px;font-size:14px;">grp-&gt;num_pins = size / pin_size;</div>
<div class="t" style="left:986px;top:2350px;font-size:14px;">grp-&gt;data = <span class="f">devm_kcalloc</span>(<span class="f">ipctl</span>-&gt;dev,</div>
<div class="t" style="left:1098px;top:2368px;font-size:14px;">grp-&gt;num_pins, sizeof(<span class="k">struct</span> imx_pin),</div>
<div class="t r" style="left:1098px;top:2387px;font-size:14px;">GFP_KERNEL);</div>
<div class="t" style="left:986px;top:2408px;font-size:14px;">grp-&gt;pins = <span class="f">devm_kcalloc</span>(<span class="f">ipctl</span>-&gt;dev,</div>
<div class="t" style="left:1098px;top:2426px;font-size:14px;">grp-&gt;num_pins, sizeof(unsigned int),</div>
<div class="t r" style="left:1098px;top:2444px;font-size:14px;">GFP_KERNEL);</div>
<div class="t" style="left:986px;top:2493px;font-size:13px;"><span class="k">for</span> (i = <span class="r">0</span>; i &lt; grp-&gt;num_pins; i++) {</div>
<div class="t c" style="left:1020px;top:2512px;font-size:10px;">// 获取pin存放数据的地址</div>
<div class="t" style="left:1020px;top:2528px;font-size:13px;">pin = &amp;((<span class="k">struct</span> imx_pin *)(grp-&gt;data))[i];</div>
<div class="t c" style="left:1026px;top:2551px;font-size:10px;">// 将list每个pin的配置保存到struct imx_pin等对应的数据结构中，方便后</div>
<div class="t c" style="left:1020px;top:2566px;font-size:10px;">续使用时直接调用</div>
<div class="t" style="left:1020px;top:2577px;font-size:13px;"><span class="f">imx_pinctrl_parse_pin_mmio</span>(ipctl, &amp;grp-&gt;pins[i],</div>
<div class="t" style="left:1189px;top:2594px;font-size:13px;">pin, &amp;list, <span class="f">np</span>);</div>
<div class="t" style="left:992px;top:2610px;font-size:11px;">}</div>
<div class="t gr" style="left:943px;top:2643px;font-size:9.5px;">} « end imx_pinctrl_parse_groups »</div>

<!-- bottom groups -->
<div class="t" style="left:1598px;top:2180px;font-size:16px;color:#555;font-family:'Liberation Serif',serif;">csi1grp</div>
<div class="t" style="left:1852px;top:2180px;font-size:16px;color:#555;font-family:'Liberation Serif',serif;">i2c1grp</div>
<div class="t" style="left:2118px;top:2180px;font-size:16px;color:#555;font-family:'Liberation Serif',serif;">i2c2grp</div>
<div class="t" style="left:2331px;top:2254px;font-size:14px;color:#555;">......</div>

<div class="box" style="left:1538px;top:2218px;width:193px;height:107px;border:3px solid #7030a0;"></div>
<div class="box" style="left:1799px;top:2218px;width:193px;height:107px;border:3px solid #7030a0;"></div>
<div class="box" style="left:2059px;top:2218px;width:193px;height:107px;border:3px solid #7030a0;"></div>
<div class="b" style="left:1543px;top:2222px;font-size:11px;line-height:15.5px;"><span class="k">struct</span> <span class="n" style="font-size:15px">group_desc</span> {
    const char *<span class="n">name</span>;
    int *<span class="n">pins</span>;
    int <span class="n">num_pins</span>;
    void *<span class="n">data</span>;
};</div>
<div class="b" style="left:1804px;top:2222px;font-size:11px;line-height:15.5px;"><span class="k">struct</span> <span class="n" style="font-size:15px">group_desc</span> {
    const char *<span class="n">name</span>;
    int *<span class="n">pins</span>;
    int <span class="n">num_pins</span>;
    void *<span class="n">data</span>;
};</div>
<div class="b" style="left:2064px;top:2222px;font-size:11px;line-height:15.5px;"><span class="k">struct</span> <span class="n" style="font-size:15px">group_desc</span> {
    const char *<span class="n">name</span>;
    int *<span class="n">pins</span>;
    int <span class="n">num_pins</span>;
    void *<span class="n">data</span>;
};</div>

<div class="box" style="left:1513px;top:2353px;width:241px;height:112px;border:3px solid #2e75b6;"></div>
<div class="box" style="left:1776px;top:2353px;width:241px;height:112px;border:3px solid #2e75b6;"></div>
<div class="box" style="left:2035px;top:2353px;width:241px;height:112px;border:3px solid #2e75b6;"></div>
<div class="b" style="left:1517px;top:2358px;font-size:9.5px;line-height:14.5px;"><span class="k">struct</span> <span class="n" style="font-size:13px">imx_pin</span> {
   unsigned int <span class="n">pin</span>;
   <span class="k">union</span> {
       <span class="k">struct</span> imx_pin_mmio <span class="n">mmio</span>;
       <span class="k">struct</span> imx_pin_scu <span class="n">scu</span>;
   } <span class="n">conf</span>;
};</div>
<div class="b" style="left:1780px;top:2358px;font-size:9.5px;line-height:14.5px;"><span class="k">struct</span> <span class="n" style="font-size:13px">imx_pin</span> {
   unsigned int <span class="n">pin</span>;
   <span class="k">union</span> {
       <span class="k">struct</span> imx_pin_mmio <span class="n">mmio</span>;
       <span class="k">struct</span> imx_pin_scu <span class="n">scu</span>;
   } <span class="n">conf</span>;
};</div>
<div class="b" style="left:2039px;top:2358px;font-size:9.5px;line-height:14.5px;"><span class="k">struct</span> <span class="n" style="font-size:13px">imx_pin</span> {
   unsigned int <span class="n">pin</span>;
   <span class="k">union</span> {
       <span class="k">struct</span> imx_pin_mmio <span class="n">mmio</span>;
       <span class="k">struct</span> imx_pin_scu <span class="n">scu</span>;
   } <span class="n">conf</span>;
};</div>

<div class="box" style="left:1513px;top:2492px;width:241px;height:113px;border:3px solid #e02020;"></div>
<div class="box" style="left:1776px;top:2492px;width:241px;height:113px;border:3px solid #e02020;"></div>
<div class="box" style="left:2035px;top:2492px;width:241px;height:113px;border:3px solid #e02020;"></div>
<div class="b" style="left:1518px;top:2500px;font-size:10.5px;line-height:15px;"><span class="k">struct</span> <span class="n" style="font-size:14px">imx_pin_mmio</span> {
   unsigned int <span class="n">mux_mode</span>;
   u16 <span class="n">input_reg</span>;
   unsigned int <span class="n">input_val</span>;
   unsigned long <span class="n">config</span>;
};</div>
<div class="b" style="left:1781px;top:2500px;font-size:10.5px;line-height:15px;"><span class="k">struct</span> <span class="n" style="font-size:14px">imx_pin_mmio</span> {
   unsigned int <span class="n">mux_mode</span>;
   u16 <span class="n">input_reg</span>;
   unsigned int <span class="n">input_val</span>;
   unsigned long <span class="n">config</span>;
};</div>
<div class="b" style="left:2040px;top:2500px;font-size:10.5px;line-height:15px;"><span class="k">struct</span> <span class="n" style="font-size:14px">imx_pin_mmio</span> {
   unsigned int <span class="n">mux_mode</span>;
   u16 <span class="n">input_reg</span>;
   unsigned int <span class="n">input_val</span>;
   unsigned long <span class="n">config</span>;
};</div>

<div class="box" style="left:1519px;top:2641px;width:753px;height:71px;border:3px solid #444;"></div>
<div class="b" style="left:1524px;top:2645px;font-size:11.3px;line-height:15.3px;color:#222;">i2c1grp {
    fsl,pins = &lt;0xb4 0x340 0x5a4 0x02 0x01 0x4001b8b0 0xb8 0x344 0x5a8 0x02 0x02 0x4001b8b0&gt;;
    phandle = &lt;0x2a&gt;;
};</div>

<!-- Connectors -->
<svg width="3368" height="3175" style="position:absolute;left:0;top:0;" xmlns="http://www.w3.org/2000/svg">
<defs>
<marker id="ab" markerWidth="8" markerHeight="8" refX="7" refY="4" orient="auto"><path d="M0,0 L8,4 L0,8 z" fill="#2e75b6"/></marker>
<marker id="ag" markerWidth="8" markerHeight="8" refX="7" refY="4" orient="auto"><path d="M0,0 L8,4 L0,8 z" fill="#1aa04a"/></marker>
<marker id="ar" markerWidth="8" markerHeight="8" refX="7" refY="4" orient="auto"><path d="M0,0 L8,4 L0,8 z" fill="#e02020"/></marker>
<marker id="ap" markerWidth="8" markerHeight="8" refX="7" refY="4" orient="auto"><path d="M0,0 L8,4 L0,8 z" fill="#7030a0"/></marker>
<marker id="ao" markerWidth="8" markerHeight="8" refX="7" refY="4" orient="auto"><path d="M0,0 L8,4 L0,8 z" fill="#c08a10"/></marker>
<marker id="ac" markerWidth="8" markerHeight="8" refX="7" refY="4" orient="auto"><path d="M0,0 L8,4 L0,8 z" fill="#18a8d8"/></marker>
</defs>
<g fill="none" stroke-width="1.5">
<line x1="2622" y1="52" x2="2622" y2="452" stroke="#2e75b6" stroke-width="2" stroke-dasharray="14,14"/>
<line x1="2677" y1="156" x2="2595" y2="368" stroke="#1aa04a" marker-end="url(#ag)"/>
<path d="M2322,544 H2150" stroke="#2e75b6" stroke-dasharray="10,4,2,4" marker-end="url(#ab)"/>
<path d="M2322,555 H2118" stroke="#2e75b6" stroke-dasharray="10,4,2,4" marker-end="url(#ab)"/>
<path d="M2773,544 H2518" stroke="#2e75b6" stroke-dasharray="10,4,2,4" marker-end="url(#ab)"/>
<path d="M3070,564 H2970" stroke="#2e75b6" stroke-dasharray="10,4,2,4" marker-end="url(#ab)"/>
<path d="M1906,884 H1906 V534 H1920" stroke="#2e75b6" stroke-dasharray="10,4,2,4" marker-end="url(#ab)"/>
<path d="M1906,884 H1955" stroke="#2e75b6" stroke-dasharray="10,4,2,4"/>
<path d="M1900,1032 V548 H1935" stroke="#c08a10" stroke-dasharray="10,4,2,4" marker-end="url(#ao)"/>
<path d="M1900,1032 H1953" stroke="#c08a10" stroke-dasharray="12,6"/>
<path d="M1895,855 H1955" stroke="#2e75b6" stroke-dasharray="10,6"/>
<path d="M1888,1005 H1932" stroke="#7030a0" stroke-dasharray="10,4,2,4" marker-end="url(#ap)"/>
<path d="M1893,1288 H1918" stroke="#1aa04a" marker-end="url(#ag)"/>
<path d="M1893,1288 V1250" stroke="#1aa04a" stroke-dasharray="10,4,2,4"/>
<path d="M1883,1310 H1955" stroke="#7030a0" stroke-dasharray="10,6"/>
<path d="M1888,1320 H1955" stroke="#18a8d8" stroke-dasharray="10,6"/>
<path d="M1880,1345 H1955" stroke="#e02020" stroke-dasharray="10,4,2,4"/>
<path d="M1880,1395 H1955" stroke="#8cc63f" stroke-dasharray="10,4,2,4"/>
<path d="M2340,953 L2120,915" stroke="#2e75b6" stroke-dasharray="10,4,2,4" marker-end="url(#ab)"/>
<path d="M2340,1050 L2163,1033" stroke="#2e75b6" stroke-dasharray="10,4,2,4" marker-end="url(#ab)"/>
<path d="M2345,1460 L2120,1305" stroke="#2e75b6" stroke-dasharray="10,4,2,4"/>
<path d="M2800,1736 H2700" stroke="#2e75b6" stroke-dasharray="10,4,2,4" marker-end="url(#ab)"/>
<path d="M2219,1950 L2322,1955" stroke="#2e75b6" stroke-dasharray="10,4,2,4"/>
<path d="M2100,1306 L2318,1952" stroke="#2e75b6" stroke-dasharray="10,4,2,4"/>
<line x1="1880" y1="1298" x2="1880" y2="1900" stroke="#18a8d8" stroke-dasharray="10,4,2,4" marker-end="url(#ac)"/>
<line x1="1800" y1="1400" x2="1800" y2="1708" stroke="#e02020" stroke-dasharray="10,4,2,4" marker-end="url(#ar)"/>
<path d="M1880,1400 H1800" stroke="#e02020" stroke-dasharray="10,4,2,4"/>
<line x1="1626" y1="1443" x2="1626" y2="1600" stroke="#8cc63f" stroke-dasharray="10,4,2,4"/>
<path d="M1880,1443 H1626" stroke="#8cc63f" stroke-dasharray="10,4,2,4"/>
<path d="M1252,1475 L1930,1399" stroke="#2e75b6" stroke-dasharray="10,4,2,4" marker-end="url(#ab)"/>
<path d="M1360,1514 L1930,1355" stroke="#2e75b6" stroke-dasharray="10,4,2,4" marker-end="url(#ab)"/>
<path d="M1265,1762 L1553,1632" stroke="#2e75b6" stroke-dasharray="10,4,2,4" marker-end="url(#ab)"/>
<path d="M1410,1734 L1553,1645" stroke="#2e75b6" stroke-dasharray="10,4,2,4" marker-end="url(#ab)"/>
<path d="M1400,1797 L1553,1657" stroke="#2e75b6" stroke-dasharray="10,4,2,4" marker-end="url(#ab)"/>
<path d="M1300,1838 L1548,1670" stroke="#2e75b6" stroke-dasharray="10,4,2,4" marker-end="url(#ab)"/>
<path d="M1330,1950 L1530,1765" stroke="#2e75b6" stroke-dasharray="10,4,2,4" marker-end="url(#ab)"/>
<path d="M960,1918 H898" stroke="#2e75b6" stroke-dasharray="10,4,2,4" marker-end="url(#ab)"/>
<path d="M1180,2262 L1545,2256" stroke="#2e75b6" stroke-dasharray="10,4,2,4" marker-end="url(#ab)"/>
<path d="M1392,2362 L1545,2303" stroke="#2e75b6" stroke-dasharray="10,4,2,4" marker-end="url(#ab)"/>
<path d="M1408,2530 L1508,2370" stroke="#2e75b6" stroke-dasharray="10,4,2,4" marker-end="url(#ab)"/>
<path d="M1450,2592 L1510,2530" stroke="#2e75b6" stroke-dasharray="10,4,2,4" marker-end="url(#ab)"/>
<path d="M980,2282 L912,2336" stroke="#2e75b6" stroke-dasharray="10,4,2,4" marker-end="url(#ab)"/>
<line x1="284" y1="2240" x2="284" y2="2292" stroke="#2e75b6" stroke-width="2" stroke-dasharray="8,5" marker-end="url(#ab)"/>
<g stroke="#2e75b6" marker-end="url(#ab)">
<line x1="1634" y1="2325" x2="1634" y2="2351"/><line x1="1895" y1="2325" x2="1895" y2="2351"/><line x1="2155" y1="2325" x2="2155" y2="2351"/>
<line x1="1634" y1="2465" x2="1634" y2="2490"/><line x1="1895" y1="2465" x2="1895" y2="2490"/><line x1="2155" y1="2465" x2="2155" y2="2490"/>
<line x1="1895" y1="2605" x2="1895" y2="2638"/>
</g>
</g>
</svg>
</body></html>
